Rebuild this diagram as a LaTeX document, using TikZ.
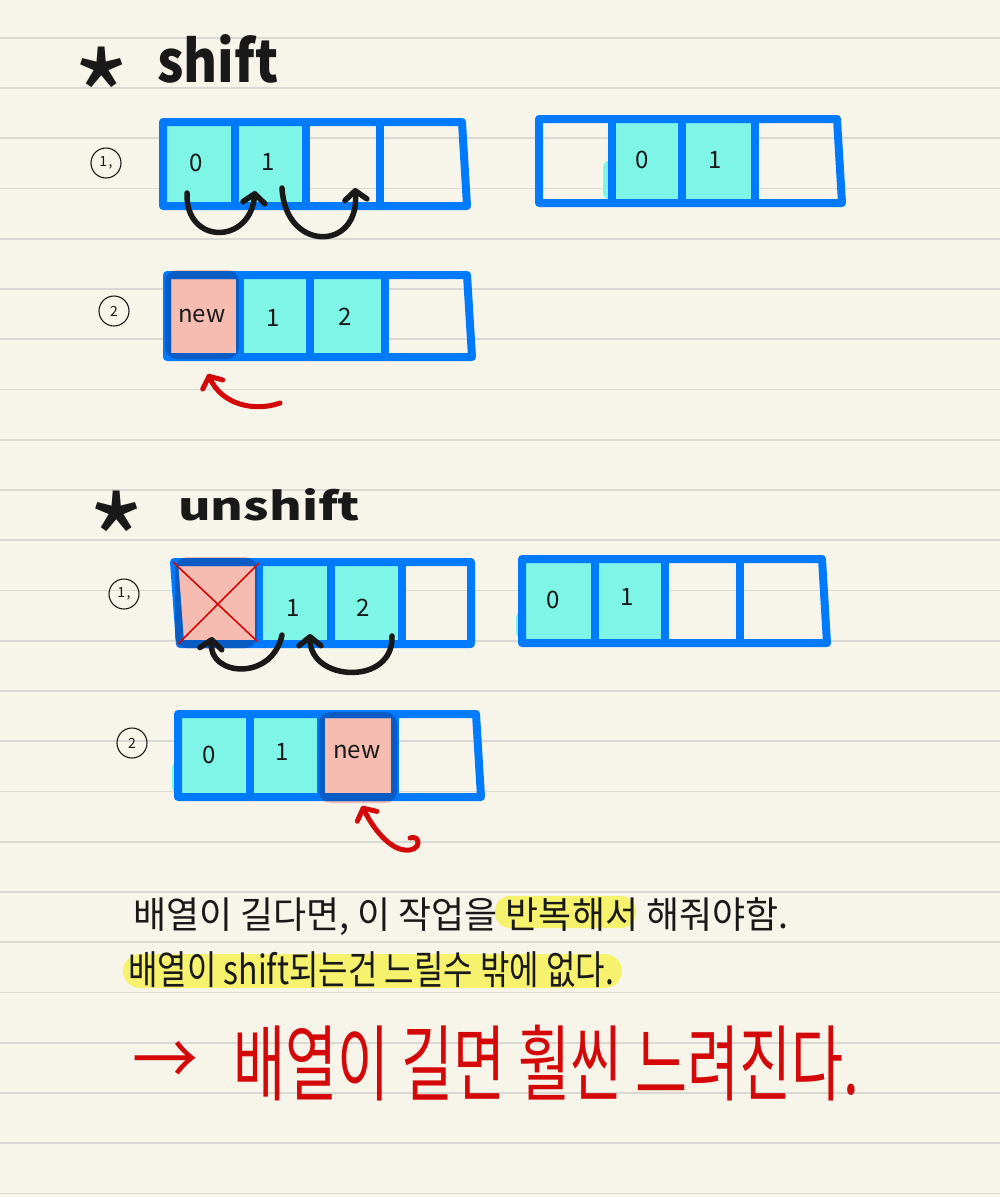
\documentclass[tikz,border=0pt]{standalone}
\usepackage{fontspec}
\setmainfont{Noto Sans CJK KR}
\usetikzlibrary{arrows.meta}
\definecolor{paper}{RGB}{247,245,234}
\definecolor{rulecol}{RGB}{216,216,212}
\definecolor{arrblue}{RGB}{0,122,255}
\definecolor{darkblue}{RGB}{8,92,196}
\definecolor{cyanfill}{RGB}{127,245,232}
\definecolor{pinkfill}{RGB}{246,188,177}
\definecolor{inkred}{RGB}{212,8,8}
\definecolor{hilite}{RGB}{247,242,110}
\definecolor{ink}{RGB}{25,25,25}
\newcommand{\arrframe}[9]{%
  \draw[frm] (#1,#3) -- (#4,#3) -- (#5,#6) -- (#2,#6) -- cycle;
  \draw[frm] (#7,#3) -- (#7,#6) (#8,#3) -- (#8,#6) (#9,#3) -- (#9,#6);}
\newcommand{\darkframe}[9]{%
  \draw[frm,draw=darkblue] (#1,#3) -- (#4,#3) -- (#5,#6) -- (#2,#6) -- cycle;
  \draw[frm,draw=darkblue] (#7,#3) -- (#7,#6) (#8,#3) -- (#8,#6) (#9,#3) -- (#9,#6);}
\tikzset{
  frm/.style={draw=arrblue, line width=8pt, line join=round, line cap=round},
  cyancell/.style={fill=cyanfill},
  pinkcell/.style={fill=pinkfill, rounded corners=12pt},
  celltxt/.style={font=\fontsize{24}{28}\selectfont, inner sep=0pt, text=ink},
  circlab/.style={draw=ink, circle, line width=1.1pt, minimum size=30pt, inner sep=0pt, font=\fontsize{14}{16}\selectfont, text=ink},
  movearrow/.style={draw=ink, line width=5.5pt, line cap=round, -{Straight Barb[round,length=9pt,width=22pt]}},
  redarrow/.style={draw=inkred, line width=5pt, line cap=round, -{Straight Barb[round,length=9pt,width=22pt]}},
  heading/.style={inner sep=0pt, text=ink, font=\bfseries},
  startxt/.style={inner sep=0pt, text=ink, font=\fontsize{125}{125}\selectfont},
  krtxt/.style={inner sep=0pt, text=ink},
}
\begin{document}
\begin{tikzpicture}[x=1pt,y=-1pt]
\fill[paper] (0,0) rectangle (1000,1197);
\useasboundingbox (0,0) rectangle (1000,1197);
\foreach \k in {0,...,23} {\draw[rulecol, line width=1.8pt] (0,37.7+50.25*\k) -- (1000,37.7+50.25*\k);}

% ---------- shift heading
\node[startxt] (star1) at (102,97) {*};
\node[heading, anchor=base west] (shift) at (157,82) {\resizebox{121pt}{48pt}{shift}};

% ---------- shift (1)
\node[circlab] (c1) at (106,163) {1\kern1.5pt,};
\fill[cyancell] (163,122) rectangle (235,206);
\fill[cyancell] (235,122) rectangle (306,206);
\arrframe{163}{163}{122}{462}{467}{206}{235}{306}{380}
\node[celltxt] (a0) at (196,163) {0};
\node[celltxt] (a1) at (268,162) {1};
\draw[movearrow] (187,193) .. controls (185,245) and (250,245) .. (255,191);
\draw[movearrow] (282,188) .. controls (285,252) and (360,252) .. (355,188);

% ---------- shift (1) result
\fill[cyancell] (612,119) rectangle (682,203);
\fill[cyancell] (682,119) rectangle (755,203);
\fill[cyanfill, rounded corners=8pt] (603,160) rectangle (625,200);
\arrframe{539}{539}{119}{837}{842}{203}{612}{682}{755}
\node[celltxt] (b0) at (642,160) {0};
\node[celltxt] (b1) at (715,160) {1};

% ---------- shift (2)
\node[circlab] (c2) at (114,311) {2};
\fill[cyancell] (240,275) rectangle (310,357);
\fill[cyancell] (310,275) rectangle (385,357);
\fill[pinkcell] (165,270) rectangle (239,359);
\arrframe{167}{167}{275}{467}{472}{357}{240}{310}{385}
\begin{scope}
  \clip[rounded corners=12pt] (165,270) rectangle (239,359);
  \darkframe{167}{167}{275}{467}{472}{357}{240}{310}{385}
\end{scope}
\node[celltxt] (n1) at (202,316) {new};
\node[celltxt] (d1) at (273,318) {1};
\node[celltxt] (d2) at (345,317) {2};
\draw[redarrow] (280,403) .. controls (255,412) and (222,405) .. (208,374);

% ---------- unshift heading
\node[startxt] (star2) at (117,541) {*};
\node[heading, anchor=base west] (unshift) at (178,520) {\resizebox{182pt}{32pt}{unshift}};

% ---------- unshift (1)
\node[circlab] (c3) at (124,594) {1\kern1.5pt,};
\fill[cyancell] (259,562) rectangle (331,644);
\fill[cyancell] (331,562) rectangle (402,644);
\fill[pinkcell] (175,557) rectangle (257,648);
\arrframe{174}{180}{562}{471}{471}{644}{259}{331}{402}
\begin{scope}
  \clip[rounded corners=12pt] (175,557) rectangle (257,648);
  \darkframe{174}{180}{562}{471}{471}{644}{259}{331}{402}
\end{scope}
\draw[inkred, line width=1.6pt] (173,562) -- (258,642);
\draw[inkred, line width=1.6pt] (259,563) -- (178,644);
\node[celltxt] (e1) at (293,608) {1};
\node[celltxt] (e2) at (363,608) {2};
\draw[movearrow] (282,635) .. controls (272,682) and (208,676) .. (212,637);
\draw[movearrow] (392,636) .. controls (394,686) and (310,682) .. (310,634);

% ---------- unshift (1) result
\fill[cyancell] (522,559) rectangle (595,643);
\fill[cyancell] (595,559) rectangle (665,643);
\fill[cyanfill, rounded corners=8pt] (516,610) rectangle (540,640);
\arrframe{522}{522}{559}{822}{827}{643}{595}{665}{740}
\node[celltxt] (f0) at (553,600) {0};
\node[celltxt] (f1) at (627,597) {1};

% ---------- unshift (2)
\node[circlab] (c4) at (132,743) {2};
\fill[cyancell] (178,714) rectangle (250,797);
\fill[cyancell] (250,714) rectangle (321,797);
\fill[cyanfill, rounded corners=8pt] (172,760) rectangle (195,795);
\fill[pinkcell] (319,712) rectangle (397,803);
\arrframe{178}{178}{714}{476}{481}{797}{250}{321}{395}
\begin{scope}
  \clip[rounded corners=12pt] (319,712) rectangle (397,803);
  \darkframe{178}{178}{714}{476}{481}{797}{250}{321}{395}
\end{scope}
\node[celltxt] (g0) at (209,755) {0};
\node[celltxt] (g1) at (282,752) {1};
\node[celltxt] (n2) at (357,752) {new};
\draw[redarrow] (410,838) .. controls (421,834) and (422,852) .. (405,850)
   .. controls (390,849) and (374,830) .. (362,806);

% ---------- notes
\fill[hilite, rounded corners=15pt] (495,896) rectangle (636,928);
\fill[hilite, rounded corners=17pt] (123,954) rectangle (622,988);
\node[krtxt, anchor=west] (t1) at (133,917) {\resizebox*{655pt}{38pt}{배열이 길다면, 이 작업을 반복해서 해줘야함.}};
\node[krtxt, anchor=west] (t2) at (128,970) {\resizebox*{486pt}{36pt}{배열이 shift되는건 느릴수 밖에 없다.}};
\node[krtxt, anchor=west, text=inkred] (ar) at (132,1063) {\resizebox*{66pt}{44pt}{→}};
\node[krtxt, anchor=west, text=inkred] (t3) at (233,1063) {\resizebox*{626pt}{76pt}{배열이 길면 훨씬 느려진다.}};
\end{tikzpicture}
\end{document}
